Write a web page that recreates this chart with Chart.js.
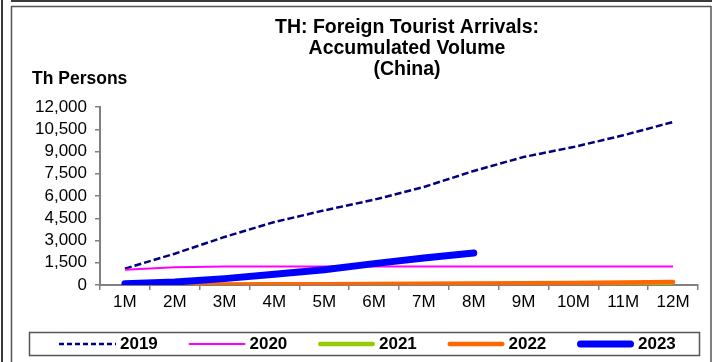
<!DOCTYPE html>
<html>
<head>
<meta charset="utf-8">
<title>TH: Foreign Tourist Arrivals: Accumulated Volume (China)</title>
<script src="https://cdn.jsdelivr.net/npm/chart.js@4.4.0/dist/chart.umd.min.js"></script>
<style>
	html, body { margin: 0; padding: 0; background: #ffffff; }
	#wrap { position: relative; width: 712px; height: 362px; }
</style>
</head>
<body>
<div id="wrap"><canvas id="arrivalsChart" width="712" height="362"></canvas></div>
<script>
	//Categories (accumulated months)
	var months = ['1M', '2M', '3M', '4M', '5M', '6M', '7M', '8M', '9M', '10M', '11M', '12M'];

	//Th Persons, accumulated from January
	var y2019 = [1100, 2110, 3240, 4250, 5030, 5750, 6610, 7690, 8630, 9300, 10090, 10990];
	var y2020 = [1030, 1200, 1240, 1245, 1246, 1247, 1248, 1249, 1250, 1251, 1252, 1253];
	var y2021 = [1, 1, 2, 2, 3, 3, 4, 5, 6, 7, 9, 13];
	var y2022 = [15, 25, 35, 45, 55, 65, 80, 95, 115, 140, 170, 210];
	var y2023 = [90, 200, 430, 720, 1030, 1440, 1820, 2160];

	var seriesNames = ['2019', '2020', '2021', '2022', '2023'];

	//Y axis tick labels
	var yTicks = [0, 1500, 3000, 4500, 6000, 7500, 9000, 10500, 12000];

	var titleLines = ['TH: Foreign Tourist Arrivals:', 'Accumulated Volume', '(China)'];
	var unitLabel = 'Th Persons';

	var fontName = '"Liberation Sans", Arial, sans-serif';

	//Frame lines, titles and the boxed legend
	var decorPlugin = {
		id: 'decor',
		beforeDraw: function(chart)
		{
			var ctx = chart.ctx;
			ctx.save();
			ctx.fillStyle = '#ffffff';
			ctx.fillRect(0, 0, chart.width, chart.height);

			ctx.strokeStyle = '#3a3a3a';
			ctx.lineWidth = 2;
			ctx.beginPath();
			ctx.moveTo(2, 0); ctx.lineTo(2, 362);
			ctx.moveTo(11, 1); ctx.lineTo(712, 1);
			ctx.stroke();

			ctx.strokeStyle = '#555555';
			ctx.lineWidth = 1.5;
			ctx.beginPath();
			ctx.moveTo(11.5, 362); ctx.lineTo(11.5, 6.5); ctx.lineTo(711, 6.5); ctx.lineTo(711, 362);
			ctx.stroke();
			ctx.restore();
		},
		afterDraw: function(chart)
		{
			var ctx = chart.ctx;
			ctx.save();

			//Title
			ctx.fillStyle = '#000000';
			ctx.textAlign = 'center';
			ctx.textBaseline = 'middle';
			ctx.font = 'bold 19.5px ' + fontName;
			for (var i = 0; i < titleLines.length; i++)
			{
				ctx.fillText(titleLines[i], 407, 28 + i * 21);
			}

			//Unit label
			ctx.textAlign = 'left';
			ctx.font = 'bold 17.5px ' + fontName;
			ctx.fillText(unitLabel, 32, 79);

			//Legend box
			ctx.strokeStyle = '#555555';
			ctx.lineWidth = 1.5;
			ctx.strokeRect(29.5, 332.5, 670, 23);

			ctx.font = 'bold 17px ' + fontName;
			var sets = chart.data.datasets;
			for (var k = 0; k < sets.length; k++)
			{
				var ds = sets[k];
				var x0 = 59 + k * 129.5;
				var yc = 344;
				ctx.beginPath();
				ctx.strokeStyle = ds.borderColor;
				ctx.lineWidth = ds.borderWidth;
				ctx.lineCap = ds.borderDash ? 'butt' : 'round';
				ctx.setLineDash(ds.borderDash ? [5, 3] : []);
				var inset = ds.borderDash ? 0 : ds.borderWidth / 2;
				ctx.moveTo(x0 + inset, yc);
				ctx.lineTo(x0 + 57 - inset, yc);
				ctx.stroke();
				ctx.setLineDash([]);
				ctx.fillStyle = '#000000';
				ctx.fillText(ds.label, x0 + 61, yc);
			}
			ctx.restore();
		}
	};

	var axisGrid = {
		drawOnChartArea: false,
		drawTicks: true,
		tickLength: 5,
		color: '#808080',
		lineWidth: 1.5
	};

	var ctx = document.getElementById('arrivalsChart').getContext('2d');

	var arrivalsChart = new Chart(ctx, {
		type: 'line',
		data: {
			labels: months,
			datasets: [
				{ label: seriesNames[0], data: y2019, borderColor: '#000080', borderWidth: 2.5, borderDash: [7, 3], order: 4 },
				{ label: seriesNames[1], data: y2020, borderColor: '#ff00ff', borderWidth: 2, order: 3 },
				{ label: seriesNames[2], data: y2021, borderColor: '#99cc00', borderWidth: 4.5, order: 2 },
				{ label: seriesNames[3], data: y2022, borderColor: '#ff6600', borderWidth: 4.5, borderCapStyle: 'round', order: 1 },
				{ label: seriesNames[4], data: y2023, borderColor: '#0000ff', borderWidth: 7, borderCapStyle: 'round', borderJoinStyle: 'round', order: 0 }
			]
		},
		options: {
			responsive: false,
			animation: false,
			devicePixelRatio: 1,
			layout: { padding: { left: 0, right: 14, top: 107, bottom: 47 } },
			elements: {
				point: { radius: 0, hoverRadius: 0 },
				line: { tension: 0, fill: false }
			},
			plugins: {
				legend: { display: false },
				title: { display: false },
				tooltip: { enabled: false }
			},
			scales: {
				x: {
					offset: true,
					grid: Object.assign({ offset: true }, axisGrid),
					border: { color: '#808080', width: 2 },
					ticks: { color: '#000000', font: { family: fontName, size: 17 }, padding: 2, maxRotation: 0, autoSkip: false },
					afterFit: function(scale) { scale.height = 30; }
				},
				y: {
					min: 0,
					max: 12000,
					afterBuildTicks: function(scale)
					{
						scale.ticks = yTicks.map(function(v) { return { value: v }; });
					},
					grid: axisGrid,
					border: { color: '#808080', width: 2 },
					ticks: {
						color: '#000000',
						font: { family: fontName, size: 17, lineHeight: 1 },
						padding: 8,
						autoSkip: false,
						callback: function(v) { return v.toLocaleString('en-US'); }
					},
					afterFit: function(scale) { scale.width = 100; }
				}
			}
		},
		plugins: [decorPlugin]
	});
</script>
</body>
</html>
